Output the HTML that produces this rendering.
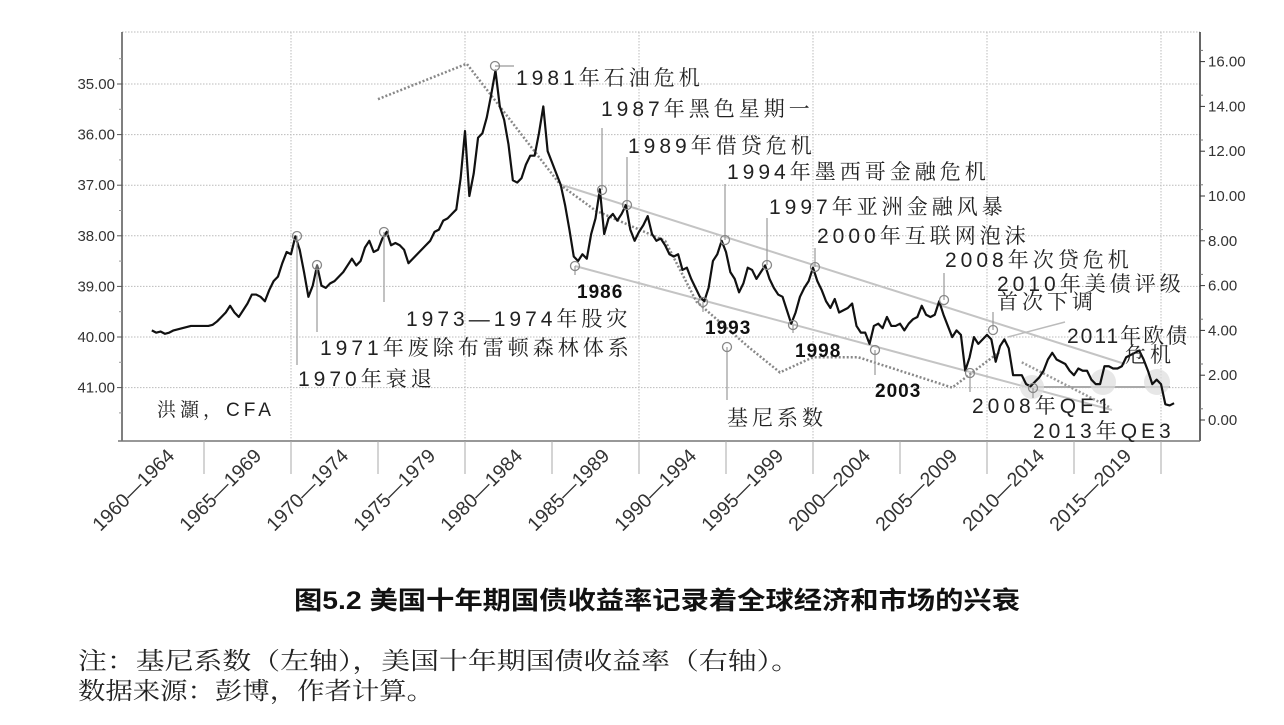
<!DOCTYPE html>
<html><head><meta charset="utf-8">
<style>
html,body{margin:0;padding:0;background:#fff;}
svg{display:block;}
.ax{font-family:"Liberation Sans","Noto Sans CJK SC",sans-serif;font-size:15px;fill:#333;}
.an{font-family:"Liberation Sans","Noto Serif CJK SC",serif;font-size:21px;fill:#222;letter-spacing:4px;}
.bd{font-family:"Liberation Sans",sans-serif;font-size:19px;font-weight:bold;fill:#111;letter-spacing:1px;}
</style></head>
<body>
<svg id="chart" width="1284" height="725" viewBox="0 0 1284 725" xmlns="http://www.w3.org/2000/svg">
<g id="grid"></g>
<g id="axes"></g>
<g id="trend">
  <line x1="562" y1="185" x2="1125" y2="364" stroke="#c4c4c4" stroke-width="2"/>
  <line x1="575" y1="266" x2="1112" y2="410" stroke="#c4c4c4" stroke-width="2"/>
  <line x1="1030" y1="387" x2="1170" y2="387" stroke="#aaa" stroke-width="2"/>
  <circle cx="1032" cy="387" r="12" fill="#ddd" opacity="0.7"/>
  <circle cx="1103" cy="382" r="13" fill="#ddd" opacity="0.7"/>
  <circle cx="1157" cy="382" r="13" fill="#ddd" opacity="0.7"/>
  <line x1="1008" y1="337" x2="1065" y2="322" stroke="#bbb" stroke-width="1.5"/>
</g>
<g id="gini"></g>
<g id="yield"></g>
<g id="ann"></g>
<text x="157" y="416" class="an" style="font-size:19px">洪灝，CFA</text>
<text x="294" y="609" textLength="726" lengthAdjust="spacingAndGlyphs" style="font-family:'Liberation Sans','Noto Sans CJK SC',sans-serif;font-weight:bold;font-size:25px;fill:#111">图5.2 美国十年期国债收益率记录着全球经济和市场的兴衰</text>
<text x="78" y="669" textLength="722" lengthAdjust="spacingAndGlyphs" style="font-family:'Liberation Sans','Noto Serif CJK SC',serif;font-size:24px;fill:#222">注：基尼系数（左轴），美国十年期国债收益率（右轴）。</text>
<text x="78" y="699" textLength="356" lengthAdjust="spacingAndGlyphs" style="font-family:'Liberation Sans','Noto Serif CJK SC',serif;font-size:24px;fill:#222">数据来源：彭博，作者计算。</text>
</svg>
<script>
const categories=["1960—1964","1965—1969","1970—1974","1975—1979","1980—1984","1985—1989","1990—1994","1995—1999","2000—2004","2005—2009","2010—2014","2015—2019"];
const leftTicks=[35,36,37,38,39,40,41];
const rightTicks=[0,2,4,6,8,10,12,14,16];
const yieldStart=1962;
const yieldValues=[
4.0,3.9,3.95,3.85, 3.9,4.0,4.05,4.1, 4.15,4.2,4.2,4.2, 4.2,4.2,4.25,4.4,
4.6,4.8,5.1,4.8, 4.6,4.9,5.2,5.6, 5.6,5.5,5.3,5.8, 6.2,6.4,7.0,7.5,
7.4,8.2,7.6,6.6, 5.5,6.0,6.9,6.0, 5.9,6.1,6.2,6.4, 6.6,6.9,7.2,6.9,
7.1,7.7,8.0,7.5, 7.6,8.1,8.4,7.8, 7.9,7.8,7.6,7.0, 7.2,7.4,7.6,7.8,
8.0,8.4,8.5,8.9, 9.0,9.2,9.4,10.8, 12.9,10.0,11.0,12.6, 12.8,13.5,14.5,15.6,
14.0,13.4,12.3,10.7, 10.6,10.8,11.4,11.8, 11.8,12.8,14.0,12.0, 11.5,11.0,10.5,9.6,
8.5,7.3,7.1,7.4, 7.2,8.3,9.0,10.3, 8.3,9.0,9.2,8.9, 9.2,9.6,8.5,8.0,
8.4,8.7,9.1,8.3, 8.0,8.1,7.8,7.4, 7.3,7.4,6.7,6.8, 6.3,5.9,5.5,5.3,
5.9,7.1,7.4,8.0, 7.5,6.6,6.3,5.7, 6.1,6.8,6.7,6.3, 6.6,6.9,6.3,5.9,
5.6,5.5,4.9,4.3, 4.8,5.5,5.9,6.2, 6.8,6.2,5.8,5.3, 5.0,5.4,4.8,4.9,
5.0,5.2,4.2,3.9, 3.9,3.4,4.2,4.3, 4.1,4.6,4.2,4.2, 4.3,4.0,4.3,4.5,
4.6,5.1,4.7,4.6, 4.7,5.3,4.7,4.2, 3.7,4.0,3.8,2.2, 2.8,3.7,3.4,3.6,
3.8,3.6,2.6,3.3, 3.6,3.2,2.0,2.0, 2.0,1.6,1.5,1.7, 1.9,2.2,2.7,3.0,
2.7,2.6,2.5,2.2, 2.0,2.3,2.2,2.2, 1.8,1.6,1.6,2.4, 2.4,2.3,2.3,2.4,
2.8,2.9,3.0,3.1, 2.7,2.2,1.6,1.8, 1.6,0.7,0.65,0.75];
const giniYears=[1975.0,1980.1,1985.5,1987.5,1989.5,1991.5,1993.3,1996.3,1998.1,2000.0,2002.6,2008.0,2010.7];
const giniValues=[35.3,34.6,37.0,37.5,37.8,38.1,39.3,40.2,40.7,40.4,40.4,41.0,40.3];
const gini2Years=[2012.0,2017.1];
const gini2Values=[40.5,41.4];

const NS="http://www.w3.org/2000/svg";
const X0=117, PXY=17.4, L=122, R=1200, T=32, B=441;
const xYear=y=>X0+(y-1960)*PXY;
const yLeft=v=>84+(v-35)*50.6;
const yRight=v=>420-v*22.4;
function mk(tag,attrs,parent){const e=document.createElementNS(NS,tag);for(const k in attrs)e.setAttribute(k,attrs[k]);parent.appendChild(e);return e;}
const grid=document.getElementById('grid'),axes=document.getElementById('axes');
[T,...leftTicks.map(yLeft),B].forEach(y=>{
  const l=mk('line',{x1:L,x2:R,y1:y,y2:y,stroke:'#bbb','stroke-width':1,'stroke-dasharray':'1.5 1.5'},grid);
  
  
});
[1970,1980,1990,2000,2010,2020].forEach(yr=>{
  const l=mk('line',{x1:xYear(yr),x2:xYear(yr),y1:T,y2:B,stroke:'#bbb','stroke-width':1,'stroke-dasharray':'1.5 1.5'},grid);
  
  
});
let a=mk('line',{x1:L,x2:L,y1:T,y2:B,stroke:'#555','stroke-width':1.5},axes);


a=mk('line',{x1:R,x2:R,y1:T,y2:B,stroke:'#333','stroke-width':1.5},axes);


a=mk('line',{x1:L-4,x2:R,y1:B,y2:B,stroke:'#777','stroke-width':1.5},axes);


leftTicks.forEach(v=>{
  const y=yLeft(v);
  mk('line',{x1:L-5,x2:L,y1:y,y2:y,stroke:'#555'},axes);
  mk('line',{x1:L-3,x2:L,y1:y+25.3,y2:y+25.3,stroke:'#999'},axes);
  const t=mk('text',{x:L-7,y:y+5,'text-anchor':'end',class:'ax'},axes);
  t.textContent=v.toFixed(2);
  
  
});
mk('line',{x1:L-3,x2:L,y1:yLeft(34.5),y2:yLeft(34.5),stroke:'#999'},axes);
rightTicks.forEach(v=>{
  const y=yRight(v);
  mk('line',{x1:R,x2:R+5,y1:y,y2:y,stroke:'#333'},axes);
  mk('line',{x1:R,x2:R+3,y1:y-11.2,y2:y-11.2,stroke:'#777'},axes);
  const t=mk('text',{x:R+8,y:y+5,class:'ax'},axes);
  t.textContent=v.toFixed(2);
  
  
});
categories.forEach((c,i)=>{
  const x0=X0+i*5*PXY;
  if(i>0){mk('line',{x1:x0,x2:x0,y1:B,y2:B+33,stroke:'#aaa'},axes);}
  const cx=x0+2.5*PXY+15;
  const t=mk('text',{x:cx,y:457,'text-anchor':'end',class:'ax',style:'font-size:19.5px',transform:`rotate(-45 ${cx} 457)`},axes);
  t.textContent=c;
  
  
});
mk('line',{x1:X0+12*5*PXY,x2:X0+12*5*PXY,y1:B,y2:B+33,stroke:'#aaa'},axes);
const g=document.getElementById('gini');
let p=mk('polyline',{points:giniYears.map((yr,i)=>xYear(yr)+','+yLeft(giniValues[i])).join(' '),fill:'none',stroke:'#888','stroke-width':2.5,'stroke-dasharray':'2 2'},g);


p=mk('polyline',{points:gini2Years.map((yr,i)=>xYear(yr)+','+yLeft(gini2Values[i])).join(' '),fill:'none',stroke:'#999','stroke-width':2.5,'stroke-dasharray':'2 2'},g);


const yg=document.getElementById('yield');
p=mk('polyline',{points:yieldValues.map((v,i)=>xYear(yieldStart+i*0.25)+','+yRight(v)).join(' '),fill:'none',stroke:'#111','stroke-width':2.2,'stroke-linejoin':'round'},yg);


const an=document.getElementById('ann');
const notes=[
 [297,236,297,365,'1970年衰退',298,386,'an'],
 [317,265,317,332,'1971年废除布雷顿森林体系',320,355,'an'],
 [384,232,384,302,'1973—1974年股灾',406,326,'an'],
 [495,66,514,66,'1981年石油危机',516,85,'an'],
 [602,190,602,128,'1987年黑色星期一',601,116,'an'],
 [627,205,627,157,'1989年借贷危机',628,153,'an'],
 [725,240,725,184,'1994年墨西哥金融危机',727,179,'an'],
 [767,265,767,218,'1997年亚洲金融风暴',769,214,'an'],
 [815,267,815,248,'2000年互联网泡沫',817,243,'an'],
 [944,300,944,273,'2008年次贷危机',945,267,'an'],
 [993,330,993,312,'2010年美债评级',997,291,'an'],
 [1008,337,1008,337,'首次下调',997,309,'an'],
 [1150,370,1150,370,'2011年欧债',1067,343,'an'],
 [1150,370,1150,370,'危机',1125,362,'an'],
 [575,266,575,275,'1986',577,298,'bd'],
 [703,302,703,312,'1993',705,334,'bd'],
 [793,325,793,333,'1998',795,357,'bd'],
 [875,350,875,375,'2003',875,397,'bd'],
 [970,373,970,392,'2008年QE1',972,413,'an'],
 [1033,388,1033,398,'2013年QE3',1033,438,'an'],
 [727,347,727,400,'基尼系数',727,425,'an']
];
notes.forEach((n,i)=>{
  const noCircle=(i===11||i===12||i===13);
  if(!noCircle){
    const ln=mk('line',{x1:n[0],y1:n[1],x2:n[2],y2:n[3],stroke:'#999','stroke-width':1.2},an);
    
    
    const c=mk('circle',{cx:n[0],cy:n[1],r:4.5,fill:'none',stroke:'#888','stroke-width':1.3},an);
    
    
  }
  const t=mk('text',{x:n[5],y:n[6],class:n[7]},an);
  if(i===12){t.setAttribute('style','letter-spacing:2px');}
  t.textContent=n[4];
  
  
});
</script>
</body></html>
